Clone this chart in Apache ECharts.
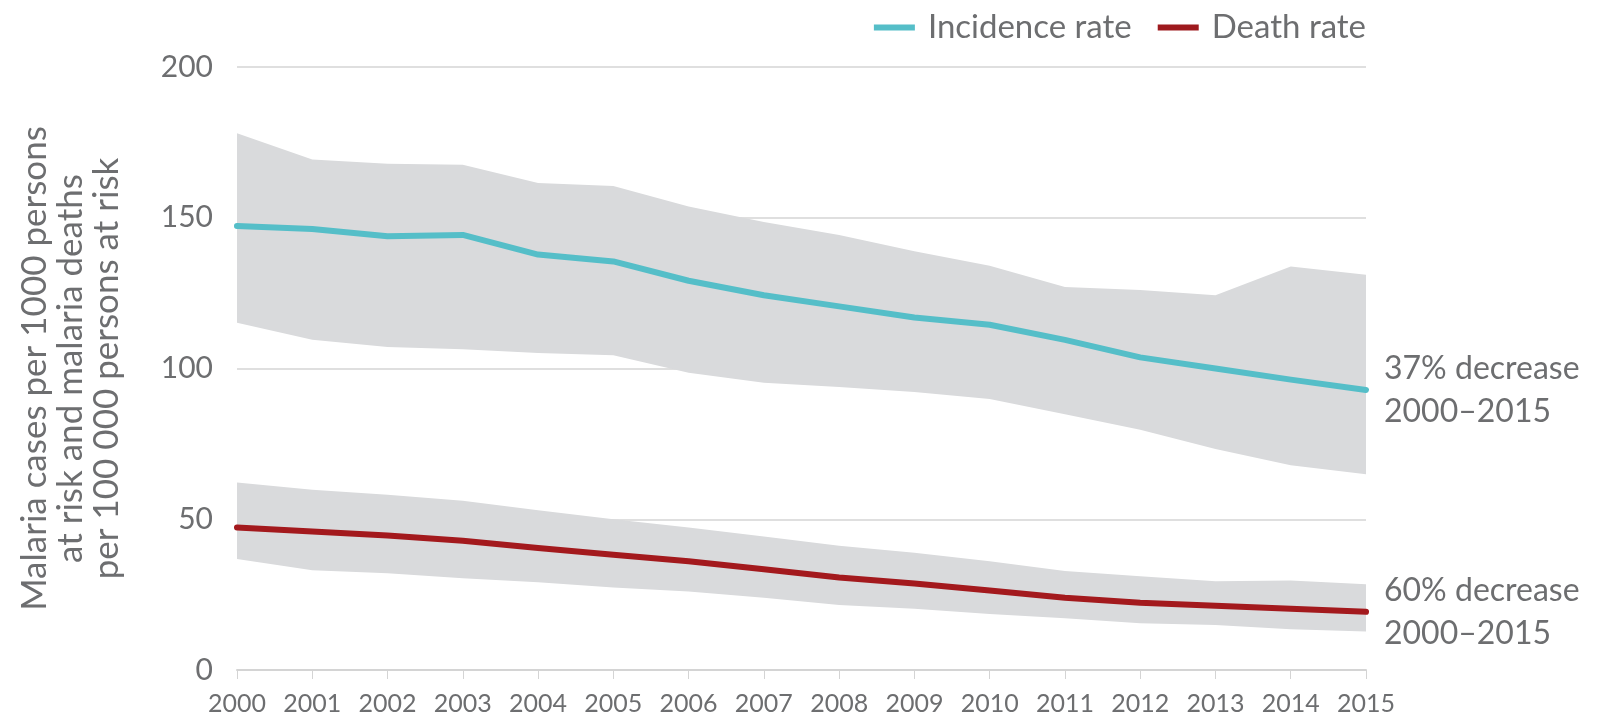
<!DOCTYPE html>
<html>
<head>
<meta charset="utf-8">
<script src="https://cdn.jsdelivr.net/npm/echarts@6/dist/echarts.min.js"></script>
<style>
  html, body { margin: 0; padding: 0; background: #fff; }
  #chart { width: 1597px; height: 721px; }
</style>
</head>
<body>
<div id="chart"></div>
<script>
// years on the x axis
var years = ["2000", "2001", "2002", "2003", "2004", "2005", "2006", "2007",
             "2008", "2009", "2010", "2011", "2012", "2013", "2014", "2015"];

// incidence rate (cases per 1000 at risk) and its uncertainty band
var incidence = [147.3, 146.3, 143.9, 144.3, 137.8, 135.5, 129.1, 124.3,
                 120.6, 116.9, 114.5, 109.5, 103.7, 100.0, 96.3, 92.9];
var incidenceHigh = [178, 169.3, 167.9, 167.6, 161.5, 160.5, 153.7, 148.6,
                     144.3, 138.9, 134.1, 127, 126, 124.3, 133.8, 131.1];
var incidenceLow = [115.2, 109.5, 107.1, 106.4, 105.1, 104.4, 98.6, 95.3,
                    93.9, 92.2, 89.9, 84.8, 79.7, 73.3, 67.9, 64.9];

// death rate (deaths per 100 000 at risk) and its uncertainty band
var deaths = [47.3, 45.9, 44.6, 42.9, 40.5, 38.2, 36.1, 33.4,
              30.7, 28.7, 26.4, 24.0, 22.3, 21.3, 20.3, 19.3];
var deathsHigh = [62.2, 59.8, 58.1, 56.1, 53, 50, 47.3, 44.3,
                  41.2, 38.9, 36.1, 32.8, 31.1, 29.4, 29.7, 28.4];
var deathsLow = [36.8, 33.1, 32.1, 30.4, 29.1, 27.4, 26, 24,
                 21.6, 20.3, 18.6, 17.2, 15.5, 14.9, 13.5, 12.8];

var yTicks = [0, 50, 100, 150, 200];
var endNotes = ["37% decrease\n2000–2015", "60% decrease\n2000–2015"];

var textGrey = "#6d6e70";
var bandGrey = "#d9dadc";
var font = "Lato";

function spread(hi, lo) {
  return hi.map(function (v, i) { return +(v - lo[i]).toFixed(2); });
}

var chart = echarts.init(document.getElementById("chart"));

var option = {
  animation: false,
  textStyle: { fontFamily: font, color: textGrey },
  grid: { left: 237, right: 231, top: 67, bottom: 51, outerBoundsMode: "none", containLabel: false },
  legend: {
    data: ["Incidence rate", "Death rate"],
    right: 226,
    top: 6,
    itemWidth: 41,
    itemHeight: 6,
    itemGap: 26,
    icon: "rect",
    textStyle: { fontSize: 33, color: textGrey, fontFamily: font, padding: [0, 0, 0, 8] }
  },
  xAxis: {
    type: "category",
    data: years,
    boundaryGap: false,
    axisLine: { lineStyle: { color: "#d4d4d4", width: 2 } },
    axisTick: { show: true, length: 9, interval: 0, lineStyle: { color: "#d4d4d4" } },
    axisLabel: { fontSize: 25, color: textGrey, margin: 21, interval: 0, fontFamily: font }
  },
  yAxis: {
    type: "value",
    min: yTicks[0],
    max: yTicks[yTicks.length - 1],
    interval: 50,
    name: "Malaria cases per 1000 persons\nat risk and malaria deaths\nper 100 000 persons at risk",
    nameLocation: "middle",
    nameRotate: 90,
    nameGap: 112,
    nameTextStyle: { fontSize: 35, lineHeight: 36, color: textGrey, align: "center", fontFamily: font },
    axisLine: { show: false },
    axisTick: { show: false },
    axisLabel: { fontSize: 30, color: textGrey, margin: 24, fontFamily: font },
    splitLine: { lineStyle: { color: "#d4d4d4", width: 1.5 } }
  },
  series: [
    {
      name: "incLow", type: "line", stack: "inc", data: incidenceLow,
      symbol: "none", lineStyle: { opacity: 0 }, silent: true
    },
    {
      name: "incBand", type: "line", stack: "inc", data: spread(incidenceHigh, incidenceLow),
      symbol: "none", lineStyle: { opacity: 0 }, silent: true,
      areaStyle: { color: bandGrey, opacity: 1 }
    },
    {
      name: "deathLow", type: "line", stack: "dth", data: deathsLow,
      symbol: "none", lineStyle: { opacity: 0 }, silent: true
    },
    {
      name: "deathBand", type: "line", stack: "dth", data: spread(deathsHigh, deathsLow),
      symbol: "none", lineStyle: { opacity: 0 }, silent: true,
      areaStyle: { color: bandGrey, opacity: 1 }
    },
    {
      name: "Incidence rate", type: "line", data: incidence,
      symbol: "none", z: 5,
      itemStyle: { color: "#55bec8" },
      lineStyle: { color: "#55bec8", width: 6, cap: "round", join: "round" },
      endLabel: {
        show: true, formatter: endNotes[0], distance: 18,
        fontSize: 32, lineHeight: 43, color: textGrey, fontFamily: font, align: "left"
      }
    },
    {
      name: "Death rate", type: "line", data: deaths,
      symbol: "none", z: 5,
      itemStyle: { color: "#9e1a1e" },
      lineStyle: { color: "#a3191d", width: 6, cap: "round", join: "round" },
      endLabel: {
        show: true, formatter: endNotes[1], distance: 18,
        fontSize: 32, lineHeight: 43, color: textGrey, fontFamily: font, align: "left"
      }
    }
  ]
};

chart.setOption(option);
</script>
</body>
</html>
